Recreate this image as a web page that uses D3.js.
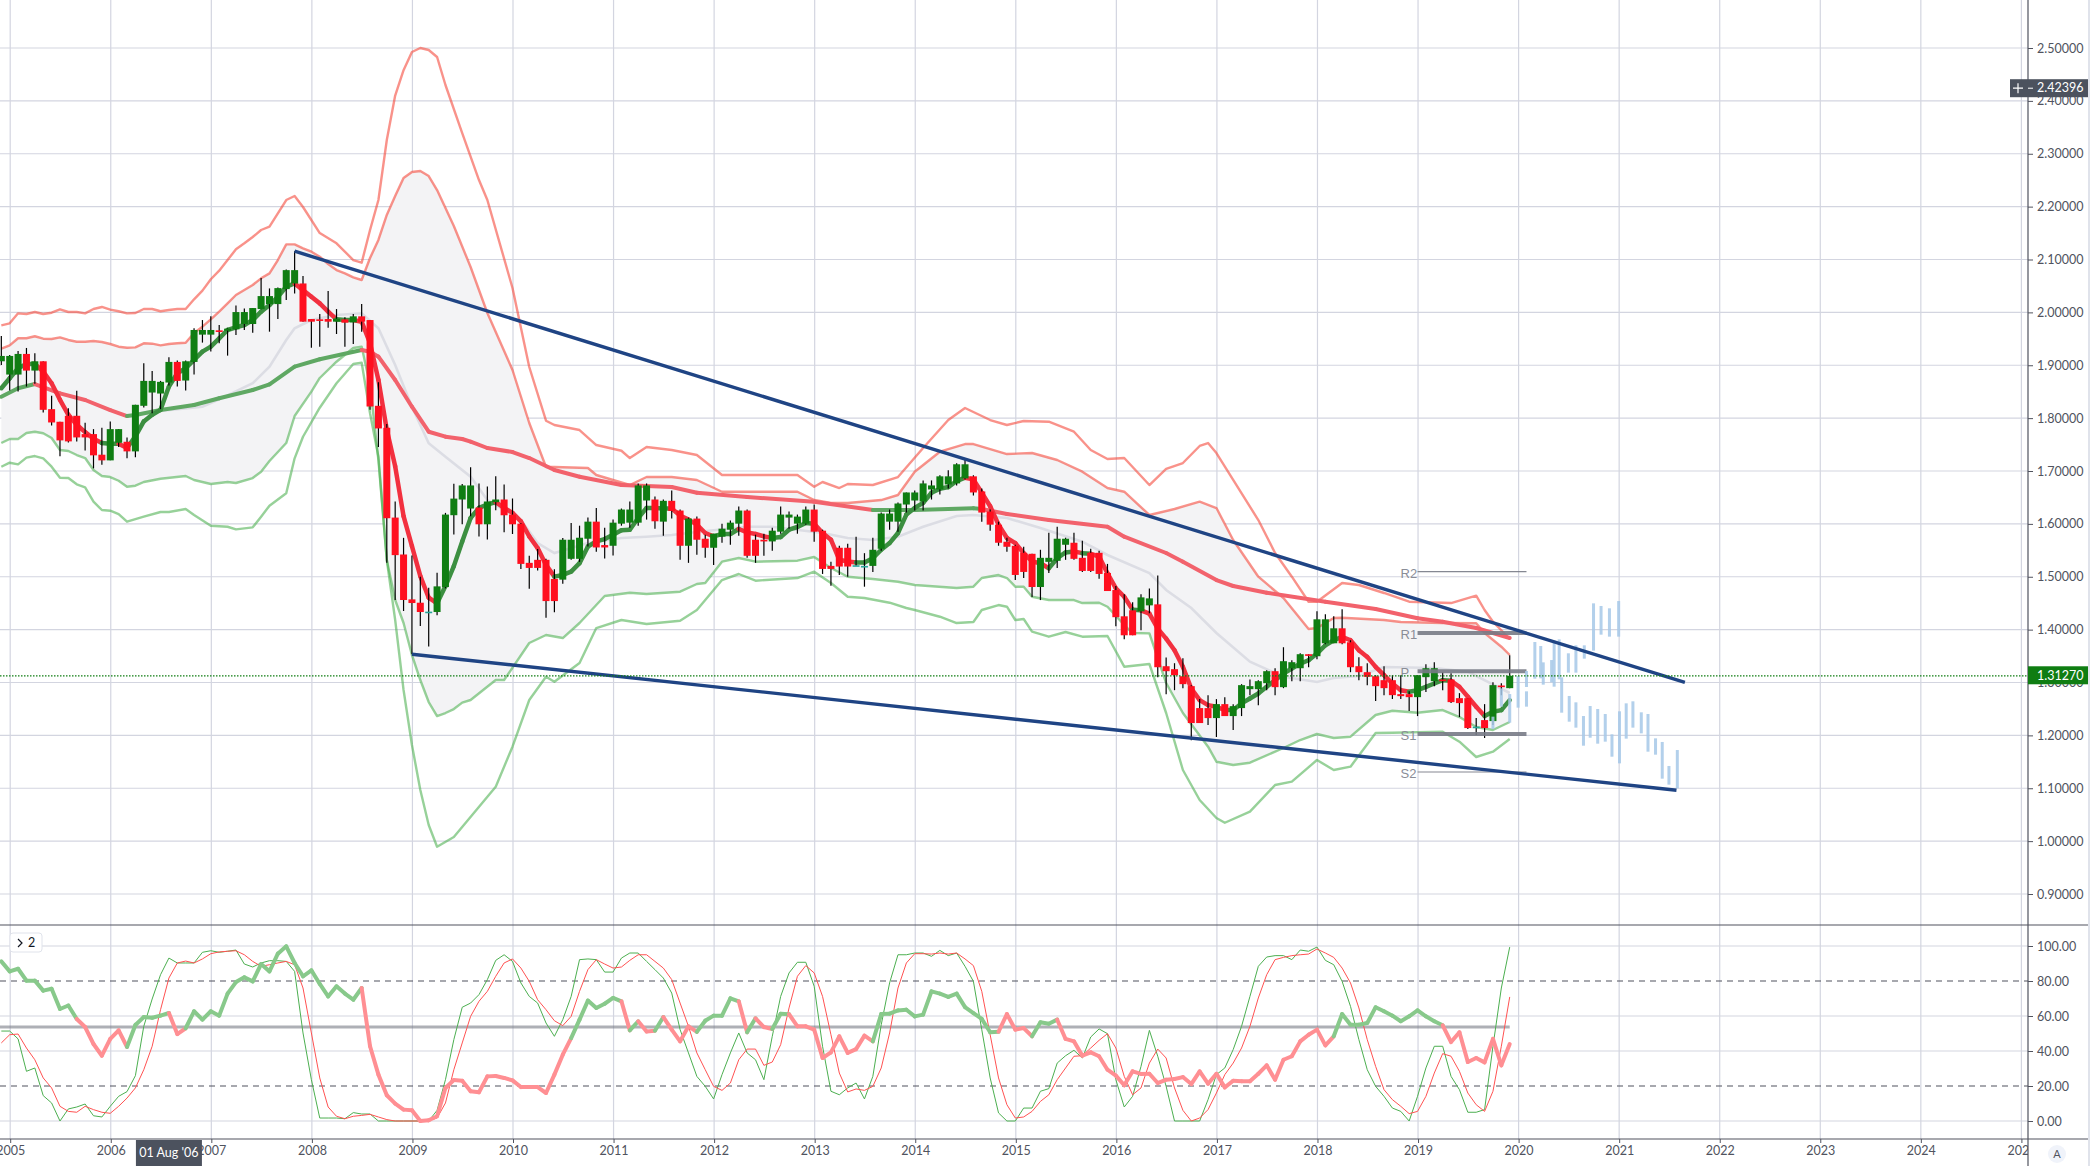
<!DOCTYPE html>
<html>
<head>
<meta charset="utf-8">
<script src="https://cdn.jsdelivr.net/npm/d3@7"></script>
<style>
  html, body { margin: 0; padding: 0; background: #fff; overflow: hidden; }
  .axis text { font-family: Lato, "Open Sans", sans-serif; font-size: 12.5px; fill: #50535e; }
  .axis line { stroke: #50535e; stroke-width: 1; }
  .axis path { display: none; }
</style>
</head>
<body>
<div id="chart"></div>
<script>
// month index: 0 = Jan 2005, monthly bars
var firstMonth = -1;

var opens = [1.9075,1.8824,1.8824,1.9214,1.8899,1.9075,1.8170,1.7931,1.8044,1.8044,
  1.7698,1.7698,1.7308,1.7201,1.7535,1.7553,1.7371,1.8233,1.8484,1.8465,
  1.8673,1.9063,1.8711,1.9063,1.9579,1.9579,1.9660,1.9654,1.9679,1.9780,
  1.9780,2.0063,2.0157,2.0157,2.0440,2.0547,2.0547,1.9874,1.9868,1.9874,
  1.9824,1.9868,1.9811,1.9925,1.9855,1.8233,1.7818,1.6119,1.5421,1.4572,
  1.4509,1.4340,1.4333,1.4805,1.6164,1.6461,1.6290,1.6309,1.5992,1.6410,
  1.6461,1.6176,1.6004,1.5263,1.5320,1.5320,1.4958,1.4945,1.5339,1.5339,
  1.5719,1.6042,1.5599,1.5586,1.6004,1.6023,1.6023,1.6442,1.6461,1.6042,
  1.6436,1.6252,1.5586,1.6100,1.5719,1.5548,1.5757,1.5890,1.6004,1.6252,
  1.5700,1.5700,1.5668,1.5852,1.6119,1.6004,1.6004,1.6271,1.5871,1.5205,
  1.5548,1.5548,1.5218,1.5205,1.5205,1.5529,1.6042,1.6042,1.6366,1.6442,
  1.6423,1.6651,1.6651,1.6746,1.6765,1.6860,1.6899,1.6613,1.6233,1.5985,
  1.5662,1.5586,1.5453,1.5434,1.4806,1.5282,1.5301,1.5605,1.5643,1.5358,
  1.5453,1.5453,1.5072,1.4749,1.4252,1.4365,1.4346,1.4459,1.4478,1.3308,
  1.3252,1.3119,1.2931,1.2516,1.2516,1.2327,1.2591,1.2365,1.2516,1.2874,
  1.2874,1.2987,1.3214,1.2912,1.3270,1.3270,1.3535,1.3497,1.3742,1.3742,
  1.4025,1.3761,1.3308,1.3195,1.3119,1.3044,1.3044,1.2780,1.2780,1.2723,
  1.3101,1.3025,1.3057,1.3057,1.2704,1.2704,1.2165,1.2289,1.2270,1.2943,1.2893];

var highs = [1.9553,1.9195,1.9270,1.9327,1.9226,1.9075,1.8421,1.7931,1.8189,1.8516,
  1.7912,1.7792,1.7818,1.7937,1.7792,1.7635,1.8252,1.9038,1.8893,1.8704,
  1.9151,1.9088,1.9088,1.9698,1.9855,1.9925,1.9761,1.9698,2.0132,2.0075,
  2.0082,2.0648,2.0453,2.0472,2.0811,2.1157,2.0686,1.9874,1.9969,2.0403,
  2.0063,1.9906,1.9969,2.0157,1.9855,1.8679,1.7887,1.6421,1.5736,1.5403,
  1.5000,1.4792,1.5075,1.6208,1.6761,1.6753,1.7070,1.6765,1.6708,1.6899,
  1.6746,1.6480,1.6017,1.5396,1.5523,1.5339,1.5142,1.5732,1.6017,1.5966,
  1.6119,1.6302,1.5928,1.6081,1.6290,1.6423,1.6765,1.6765,1.6518,1.6461,
  1.6632,1.6271,1.6119,1.6138,1.5795,1.5814,1.6004,1.6062,1.6328,1.6271,
  1.5795,1.5814,1.5928,1.6328,1.6233,1.6176,1.6328,1.6366,1.5890,1.5282,
  1.5586,1.5624,1.5757,1.5446,1.5738,1.6214,1.6271,1.6404,1.6594,1.6632,
  1.6822,1.6822,1.6918,1.7013,1.7146,1.7222,1.6918,1.6670,1.6271,1.6042,
  1.5738,1.5605,1.5567,1.5434,1.5510,1.5833,1.5947,1.5738,1.5833,1.5681,
  1.5529,1.5491,1.5243,1.4825,1.4667,1.4516,1.4667,1.4780,1.5025,1.3472,
  1.3365,1.3459,1.2950,1.2686,1.2761,1.2686,1.2723,1.2591,1.2969,1.3057,
  1.3044,1.3233,1.3270,1.3667,1.3421,1.3553,1.3535,1.4346,1.4289,1.4252,
  1.4384,1.3799,1.3478,1.3365,1.3138,1.3308,1.3138,1.3138,1.2836,1.3138,
  1.3346,1.3384,1.3195,1.3176,1.2799,1.2704,1.2327,1.2591,1.3006,1.2987,1.3516];

var lows = [1.9006,1.8522,1.8503,1.8597,1.8648,1.8107,1.7862,1.7277,1.7541,1.7560,
  1.7390,1.7050,1.7119,1.7201,1.7453,1.7239,1.7258,1.8201,1.8094,1.8170,
  1.8616,1.8597,1.8522,1.8824,1.9428,1.9258,1.9415,1.9182,1.9572,1.9667,
  1.9616,2.0057,1.9635,1.9874,2.0233,2.0358,1.9824,1.9333,1.9352,1.9711,
  1.9591,1.9352,1.9403,1.9635,1.8157,1.7453,1.5264,1.4560,1.4352,1.3535,
  1.4069,1.3679,1.4270,1.4780,1.5799,1.5992,1.6144,1.5763,1.5706,1.6258,
  1.5840,1.5808,1.5148,1.4774,1.5117,1.4223,1.4330,1.4869,1.5320,1.5282,
  1.5573,1.5472,1.5345,1.5402,1.5966,1.5928,1.5966,1.6081,1.5909,1.5776,
  1.6100,1.5320,1.5263,1.5415,1.5358,1.5224,1.5643,1.5605,1.5776,1.5358,
  1.5263,1.5396,1.5491,1.5814,1.5909,1.5814,1.5985,1.5662,1.5053,1.4831,
  1.5034,1.5002,1.5205,1.4812,1.5091,1.5491,1.5890,1.5852,1.6214,1.6252,
  1.6252,1.6461,1.6556,1.6670,1.6727,1.6841,1.6537,1.6042,1.5871,1.5586,
  1.5472,1.4939,1.4977,1.4616,1.4559,1.5072,1.5167,1.5320,1.5320,1.5091,
  1.5091,1.4964,1.4730,1.4064,1.3818,1.3893,1.3987,1.4308,1.3101,1.2780,
  1.2855,1.2893,1.1906,1.2233,1.2195,1.1969,1.2365,1.2101,1.2365,1.2761,
  1.2572,1.2855,1.2761,1.2893,1.3025,1.3025,1.3289,1.3440,1.3723,1.3742,
  1.3723,1.3195,1.3044,1.2950,1.2648,1.2761,1.2686,1.2686,1.2459,1.2365,
  1.2818,1.2931,1.2855,1.2610,1.2346,1.2119,1.2006,1.1950,1.2195,1.2761,1.2893];

var closes = [1.9176,1.9176,1.9214,1.8899,1.9075,1.8157,1.7918,1.7579,1.7560,1.7635,
  1.7635,1.7296,1.7201,1.7792,1.7792,1.7371,1.8252,1.8704,1.8704,1.8686,
  1.9063,1.8704,1.9075,1.9667,1.9667,1.9667,1.9635,1.9692,2.0006,2.0006,
  2.0082,2.0308,2.0308,2.0459,2.0799,2.0799,1.9824,1.9824,1.9855,1.9824,
  1.9881,1.9805,1.9925,1.9824,1.8220,1.7805,1.6107,1.5409,1.4560,1.4503,
  1.4333,1.4340,1.4818,1.6176,1.6478,1.6727,1.6727,1.5992,1.6423,1.6461,
  1.6163,1.5992,1.5243,1.5167,1.5167,1.4540,1.4540,1.5700,1.5700,1.5738,
  1.6042,1.5554,1.5554,1.6023,1.6271,1.6271,1.6727,1.6727,1.6049,1.6436,
  1.6245,1.5586,1.6100,1.5700,1.5548,1.5814,1.5909,1.6023,1.6252,1.5396,
  1.5396,1.5668,1.5871,1.6176,1.6176,1.6138,1.6271,1.5852,1.5148,1.5148,
  1.5193,1.5193,1.5218,1.5205,1.5510,1.6195,1.6195,1.6385,1.6594,1.6594,
  1.6765,1.6727,1.6899,1.6899,1.7127,1.7127,1.6594,1.6214,1.5985,1.5643,
  1.5567,1.5034,1.5091,1.4806,1.5358,1.5358,1.5719,1.5719,1.5339,1.5110,
  1.5110,1.5053,1.4730,1.4235,1.3893,1.3893,1.4610,1.4591,1.3289,1.3214,
  1.3138,1.2969,1.2233,1.2233,1.2327,1.2591,1.2365,1.2553,1.2950,1.2931,
  1.3025,1.3214,1.2912,1.3403,1.3384,1.3535,1.3503,1.4195,1.4195,1.4025,
  1.3742,1.3289,1.3195,1.3107,1.2931,1.2893,1.2761,1.2742,1.2723,1.3138,
  1.3270,1.3270,1.3025,1.2629,1.2610,1.2138,1.2165,1.2138,1.2950,1.2912,1.3127];

// fast average, one value per bar
var fastMA = [1.8566,1.8755,1.8943,1.9025,1.9025,1.8881,1.8660,1.8346,1.8063,1.7874,
  1.7736,1.7610,1.7528,1.7516,1.7516,1.7434,1.7654,1.7937,1.8063,1.8157,
  1.8597,1.8849,1.8943,1.9101,1.9258,1.9352,1.9509,1.9667,1.9717,1.9761,
  1.9855,2.0013,2.0138,2.0296,2.0484,2.0547,2.0421,2.0296,2.0170,2.0013,
  1.9868,1.9855,1.9855,1.9824,1.9415,1.8723,1.7780,1.7088,1.6145,1.5579,
  1.5013,1.4604,1.4497,1.4824,1.5201,1.5668,1.6112,1.6302,1.6366,1.6410,
  1.6302,1.6207,1.6049,1.5763,1.5542,1.5224,1.5003,1.5034,1.5098,1.5256,
  1.5573,1.5668,1.5713,1.5795,1.5878,1.5890,1.6112,1.6302,1.6302,1.6290,
  1.6290,1.6157,1.6081,1.5985,1.5827,1.5763,1.5808,1.5808,1.5903,1.5840,
  1.5808,1.5763,1.5732,1.5751,1.5890,1.5941,1.6017,1.6004,1.5827,1.5700,
  1.5320,1.5288,1.5269,1.5269,1.5351,1.5510,1.5637,1.5827,1.6176,1.6302,
  1.6398,1.6588,1.6664,1.6696,1.6810,1.6873,1.6841,1.6588,1.6334,1.5985,
  1.5732,1.5637,1.5446,1.5288,1.5256,1.5161,1.5351,1.5459,1.5478,1.5446,
  1.5434,1.5383,1.5066,1.4781,1.4622,1.4377,1.4365,1.4302,1.4019,1.3830,
  1.3610,1.3296,1.2887,1.2667,1.2572,1.2541,1.2478,1.2478,1.2604,1.2698,
  1.2792,1.2918,1.3044,1.3170,1.3264,1.3358,1.3421,1.3547,1.3704,1.3799,
  1.3862,1.3799,1.3610,1.3484,1.3296,1.3138,1.2981,1.2855,1.2824,1.2855,
  1.2918,1.2981,1.3044,1.3031,1.2918,1.2730,1.2541,1.2365,1.2447,1.2478,1.2667];

// the next series are read at their turning points: [month index, price]
var slowMA = [[-1,1.8405],[1,1.8564],[3,1.8645],[6,1.8469],[9,1.8343],[12,1.8153],[14,1.8040],[15,1.8059],[18,1.8153],[22,1.8248],
  [25,1.8375],[29,1.8532],[31,1.8639],[34,1.8973],[37,1.9113],[42,1.9288],[43,1.9256],[44,1.9162],[46,1.8721],[48,1.8216],
  [50,1.7743],[52,1.7649],[54,1.7605],[55,1.7554],[57,1.7435],[60,1.7359],[62,1.7245],[65,1.7019],[68,1.6892],[73,1.6735],
  [79,1.6697],[82,1.6590],[88,1.6508],[96,1.6419],[103,1.6262],[108,1.6262],[115,1.6294],[116,1.6281],[119,1.6187],[124,1.6073],
  [131,1.5946],[133,1.5757],[138,1.5449],[140,1.5285],[144,1.4938],[146,1.4825],[150,1.4698],[157,1.4528],[163,1.4390],[168,1.4214],
  [171,1.4150],[175,1.4030],[179,1.3841]];

var middleBand = [[-1,1.8419],[1,1.8564],[3,1.8645],[6,1.8469],[9,1.8343],[12,1.8153],[14,1.8040],[17,1.8121],[23,1.8216],[25,1.8356],
  [29,1.8659],[31,1.8973],[33,1.9478],[34,1.9699],[36,1.9856],[39,1.9950],[42,1.9982],[44,1.9699],[46,1.9005],[48,1.8216],
  [50,1.7524],[52,1.7270],[55,1.6892],[57,1.6451],[61,1.6073],[63,1.5638],[65,1.5449],[69,1.5638],[73,1.5733],[76,1.5757],
  [79,1.5789],[82,1.5846],[88,1.5947],[91,1.5947],[97,1.5827],[100,1.5733],[103,1.5695],[106,1.5757],[109,1.5946],[113,1.6149],
  [115,1.6168],[119,1.6111],[123,1.5922],[128,1.5663],[131,1.5411],[136,1.5071],[138,1.4749],[141,1.4409],[144,1.3936],[148,1.3393],
  [152,1.3110],[156,1.3009],[158,1.3085],[161,1.3123],[164,1.3293],[170,1.3274],[174,1.3204],[179,1.2801]];

var upperOuter = [[-1,1.9755],[0,1.9793],[1,1.9982],[2,1.9969],[3,2.0007],[4,1.9969],[5,1.9994],[6,2.0058],[7,2.0007],[8,2.0007],
  [9,1.9982],[10,2.0064],[11,2.0102],[12,2.0051],[13,2.0021],[14,1.9982],[15,1.9988],[16,2.0064],[17,2.0064],[18,2.0021],
  [19,2.0045],[20,2.0064],[21,2.0064],[22,2.0247],[23,2.0411],[24,2.0626],[25,2.0789],[26,2.0990],[27,2.1193],[28,2.1306],
  [29,2.1425],[30,2.1558],[31,2.1620],[33,2.2125],[34,2.2201],[35,2.1993],[37,2.1500],[39,2.1306],[41,2.0990],[42,2.0939],
  [43,2.1558],[44,2.2125],[45,2.3260],[46,2.4100],[47,2.4580],[48,2.4924],[49,2.5000],[50,2.4962],[51,2.4830],[52,2.4300],
  [54,2.3390],[56,2.2503],[57,2.2125],[60,2.0461],[62,1.8967],[64,1.7951],[65,1.7870],[68,1.7775],[70,1.7491],[73,1.7383],
  [74,1.7245],[76,1.7453],[79,1.7397],[82,1.7302],[85,1.6924],[94,1.6924],[96,1.6703],[97,1.6792],[99,1.6678],[100,1.6754],
  [103,1.6735],[106,1.6886],[109,1.7435],[112,1.7964],[114,1.8191],[117,1.7964],[119,1.7870],[121,1.7945],[124,1.7932],[127,1.7743],
  [129,1.7397],[131,1.7227],[133,1.7246],[136,1.6735],[138,1.7038],[140,1.7151],[142,1.7473],[143,1.7529],[144,1.7340],[146,1.6830],
  [149,1.6073],[151,1.5449],[153,1.5001],[155,1.4528],[156,1.4528],[159,1.4882],[161,1.4844],[164,1.4693],[167,1.4528],[172,1.4503],
  [175,1.4642],[176,1.4371],[177,1.4150],[179,1.3823]];

var upperInner = [[-1,1.9313],[0,1.9377],[1,1.9510],[2,1.9510],[3,1.9548],[4,1.9502],[5,1.9496],[6,1.9528],[7,1.9478],[8,1.9445],
  [9,1.9445],[10,1.9458],[11,1.9440],[12,1.9402],[13,1.9351],[14,1.9332],[15,1.9339],[16,1.9415],[17,1.9408],[18,1.9377],
  [19,1.9402],[20,1.9415],[21,1.9426],[22,1.9610],[23,1.9729],[24,1.9869],[25,2.0013],[26,2.0172],[27,2.0329],[28,2.0423],
  [29,2.0518],[30,2.0644],[31,2.0738],[32,2.0990],[33,2.1287],[34,2.1287],[35,2.1212],[36,2.1148],[37,2.1053],[38,2.0915],
  [39,2.0801],[40,2.0738],[41,2.0663],[42,2.0612],[43,2.1028],[44,2.1369],[45,2.1842],[46,2.2200],[47,2.2541],[48,2.2655],
  [49,2.2674],[50,2.2579],[51,2.2314],[52,2.1975],[53,2.1634],[55,2.0858],[57,1.9988],[60,1.8910],[62,1.7908],[64,1.7076],
  [65,1.7076],[69,1.7057],[70,1.6924],[74,1.6735],[76,1.6886],[79,1.6886],[82,1.6830],[85,1.6608],[94,1.6608],[96,1.6451],
  [98,1.6395],[100,1.6395],[104,1.6451],[106,1.6546],[108,1.6987],[111,1.7365],[114,1.7510],[115,1.7510],[119,1.7321],[122,1.7340],
  [125,1.7208],[128,1.6987],[131,1.6678],[133,1.6608],[136,1.6168],[139,1.6281],[142,1.6419],[144,1.6300],[146,1.5695],[149,1.5001],
  [152,1.4598],[155,1.4011],[156,1.4030],[158,1.4219],[159,1.4225],[164,1.4182],[166,1.4144],[171,1.4125],[175,1.4120],[176,1.3936],
  [178,1.3677],[179,1.3520]];

var lowerInner = [[-1,1.7529],[0,1.7605],[1,1.7605],[2,1.7718],[3,1.7743],[4,1.7713],[5,1.7624],[6,1.7397],[7,1.7378],[8,1.7302],
  [9,1.7245],[10,1.7019],[11,1.6905],[12,1.6886],[13,1.6816],[14,1.6703],[15,1.6722],[16,1.6792],[18,1.6854],[21,1.6905],
  [22,1.6830],[24,1.6754],[26,1.6792],[27,1.6773],[29,1.6867],[30,1.6987],[31,1.7189],[33,1.7529],[34,1.8040],[36,1.8500],
  [37,1.8759],[39,1.9067],[41,1.9326],[42,1.9351],[43,1.8626],[44,1.7208],[45,1.5317],[46,1.4560],[47,1.4125],[48,1.3520],
  [49,1.3047],[50,1.2631],[51,1.2366],[52,1.2423],[53,1.2498],[54,1.2620],[55,1.2669],[58,1.3047],[59,1.3047],[62,1.3747],
  [64,1.3898],[66,1.3841],[68,1.4125],[71,1.4636],[74,1.4698],[76,1.4674],[80,1.4717],[82,1.4863],[83,1.4882],[85,1.5285],
  [87,1.5355],[89,1.5285],[94,1.5304],[96,1.5374],[98,1.5165],[100,1.5001],[103,1.4957],[106,1.4906],[108,1.4844],[113,1.4787],
  [115,1.4812],[116,1.4976],[118,1.5033],[119,1.4976],[120,1.4812],[121,1.4812],[122,1.4622],[124,1.4560],[127,1.4560],[128,1.4503],
  [130,1.4509],[131,1.4433],[133,1.4087],[134,1.3936],[136,1.3930],[138,1.2990],[140,1.2423],[143,1.1786],[144,1.1502],[146,1.1440],
  [148,1.1483],[152,1.1761],[154,1.1912],[156,1.2026],[158,1.1950],[160,1.1975],[163,1.2385],[165,1.2466],[168,1.2428],[171,1.2479],
  [173,1.2347],[175,1.2158],[177,1.2101],[179,1.2253]];

var lowerOuter = [[-1,1.7081],[0,1.7157],[1,1.7126],[2,1.7252],[3,1.7283],[4,1.7240],[5,1.7081],[6,1.6873],[7,1.6867],[8,1.6748],
  [9,1.6691],[10,1.6419],[11,1.6262],[12,1.6249],[13,1.6186],[14,1.6041],[16,1.6136],[18,1.6224],[19,1.6224],[21,1.6281],
  [22,1.6168],[24,1.5965],[26,1.5946],[27,1.5897],[29,1.5934],[30,1.6136],[31,1.6344],[33,1.6578],[34,1.7240],[35,1.7648],
  [37,1.8197],[39,1.8659],[41,1.9024],[42,1.9048],[43,1.8091],[44,1.7270],[45,1.5317],[46,1.4182],[47,1.2858],[48,1.1818],
  [49,1.0967],[50,1.0305],[51,0.9894],[53,1.0078],[58,1.1029],[60,1.1786],[62,1.2669],[64,1.3110],[65,1.3015],[68,1.3369],
  [70,1.4030],[73,1.4182],[76,1.4106],[80,1.4169],[82,1.4371],[85,1.4938],[87,1.5052],[89,1.4925],[94,1.4976],[96,1.5095],
  [98,1.4881],[100,1.4622],[102,1.4598],[105,1.4509],[107,1.4409],[108,1.4371],[111,1.4244],[113,1.4125],[115,1.4144],[116,1.4371],
  [118,1.4465],[119,1.4433],[120,1.4182],[121,1.4201],[122,1.3961],[124,1.3866],[126,1.3955],[128,1.3866],[131,1.3879],[133,1.3299],
  [136,1.3350],[138,1.2423],[140,1.1345],[142,1.0778],[144,1.0437],[145,1.0348],[148,1.0557],[151,1.1061],[153,1.1124],[156,1.1534],
  [158,1.1345],[160,1.1408],[163,1.2045],[165,1.2050],[171,1.2070],[173,1.1881],[175,1.1591],[177,1.1691],[179,1.1931]];

// projected price bars after the last candle: month, top price, bottom price
var projMonths = [177,178,179,180,181,181,182,182.7,183,184,184.3,184.9,185.2,186,186.1,186.9,186.9,187.8,187.9,188.6,189,189.5,189.9,190.4,190.9,191.2,192,192.1,192.9,193.7,194.7,195.5,196.4,197.2,198,199];
var projTops = [1.2354,1.2890,1.2782,1.3123,1.3217,1.2833,1.3766,1.3690,1.3381,1.3425,1.3791,1.3816,1.3098,1.3552,1.2745,1.3703,1.2625,1.2366,1.3703,1.2555,1.4497,1.2499,1.4447,1.2404,1.4403,1.2020,1.4541,1.2455,1.2606,1.2644,1.2436,1.2404,1.1944,1.1875,1.1421,1.1723];
var projBottoms = [1.2120,1.2543,1.2240,1.2524,1.2915,1.2543,1.3072,1.3079,1.2959,1.3003,1.2921,1.3060,1.2429,1.3186,1.2259,1.3186,1.2146,1.1805,1.3451,1.1956,1.3602,1.1843,1.3905,1.1881,1.3867,1.1597,1.3867,1.1471,1.1938,1.2146,1.2038,1.1692,1.1635,1.1181,1.1068,1.0998];

var pivotNames = ["R2", "R1", "P", "S1", "S2"];
var pivotValues = [1.5096, 1.3936, 1.3211, 1.2026, 1.1307];
var pivotStart = 168, pivotEnd = 181;

// channel drawn by hand: [month, price] start and end
var channelTop = [[34, 2.1157], [199.9, 1.3004]];
var channelBottom = [[48, 1.3535], [198.9, 1.0961]];

// stochastic pane
var oscThick = [91.2,85.5,87,80.2,80.2,74.5,75.6,64,66,58.3,53.7,44,37.3,46.9,51.8,42.3,54.9,59.4,59,60.2,
  61.7,49.7,53,62.7,57.9,62.7,60.2,72.8,79.4,82.1,79.8,89.7,85.5,95.6,99.8,90.3,82.7,86.1,78.3,71.2,
  77,72.8,69.3,76,42.7,26.5,14.7,9.9,6.5,6.1,0,0.4,2.7,18.9,23.4,23,17,16.4,25.5,25.7,
  24.6,23.2,19.4,19.4,19.4,16,26.5,37.9,47.4,57.9,68.8,64.6,67,70.3,68.4,51.8,57,51.2,51.6,59.4,
  52.2,45.5,54.1,50.9,57.3,60.2,60.2,70.1,68.4,50.7,58.7,53.7,52.6,61.3,61,54.1,54.1,52.2,36,39.2,
  48.4,38.9,41.1,48.8,45.5,61.1,61.3,63.2,63.6,59.8,60.8,74.1,72.8,70.9,72.8,65.1,61.7,58.3,50.7,51,
  61.1,52.2,53.1,48.4,56.4,55.6,57.9,46.9,45.5,37.3,39.2,37,29.3,25.9,20.4,28.4,26.9,27,21.7,23.6,
  24,25.1,21.1,28.4,21.3,27,19.2,23,22.7,22.7,27,31.8,23.6,35,37,45.5,49.3,52.2,43.2,48.4,
  61.1,55,55,56,65,62.7,60.2,57,59.8,63.2,59.8,57,54.7,45.1,50.7,33.7,36,33.5,46.9,31.8,44];

var oscK = [51.4,51.4,46.9,28.4,30.3,14.5,10.3,0,6.9,8,9.7,3,2.3,8.4,14.1,16.8,25.9,54.1,69.7,83.6,
  93.1,90.3,90.3,90.3,96.4,97.3,96.4,97,97.7,89.7,88,90.3,91.6,91.6,91.2,85.5,50.3,23.6,1.7,1.7,
  1.7,1.3,4.8,4,4,0,0,0,0,0,0,0,6.1,23.6,46.5,65,67.4,72.2,80.8,91.8,
  95,91.2,78.9,71.2,67.4,56,48.4,57.9,71.2,92.2,92.6,92.2,85.1,85.1,93.1,96,96,91.2,86.5,81.7,
  73.1,52.2,38.9,25.5,19.8,12.6,26.5,38.9,50.3,38.9,35,23.6,48.4,71.2,84.6,90.7,90.7,77,42.7,17,
  15,18.9,21.7,12.6,25.5,55,78.9,95,95,96,96,94.1,97.5,94.5,96,88.4,79.8,52.2,24.6,4.6,
  0,0,7.4,7.4,17,18.5,33.1,37.3,40.4,36,48,52.6,49.9,23.6,8,14.1,31.2,51.8,37,19.8,
  0,0,0,0,12.2,26.5,30.3,40.8,54.1,71.2,88.4,93.7,94.5,94.5,92.2,97.7,97,99.4,91.8,89.3,
  79.8,65.5,46.5,29.3,19.8,14.1,7.4,5.5,0,14.1,30.3,42.7,42.7,25.5,17.9,5,5,6.5,42.7,76,99.4];

var oscD = [44.6,49.3,49.7,41.7,35,24.6,18.9,8.4,5.5,5,8.4,6.5,5,4.4,8.4,13.1,18.9,29.3,42.7,63.6,
  81.7,90.3,91.4,90.3,92.6,95.6,96.6,97,97.3,95,91.2,88.4,89.3,90.3,91.2,89.3,76,50.3,24.6,8,
  2.7,1.3,2.7,3.2,3.8,2.3,0.8,0,0,0,0,0.2,1.7,10.3,29.3,44.6,59.8,68.4,74.1,82.7,
  90.3,92.6,87.4,79.8,69.3,63.6,57.3,54.5,59.8,74.1,86.5,92.2,89.7,87.4,88,91.8,95,95,91.2,87.4,
  80.8,67.4,54.1,38.9,29.3,19.8,17.5,21.7,35,41.1,41.1,31.8,33.7,43.6,64.6,82.7,88.8,84.6,71.2,49.3,
  27.4,16.6,18.3,17.5,19.8,30.3,50.3,76,90.3,95.6,95.6,95.4,96,95.4,96,92.6,88.8,74.1,49.3,24.6,
  9.3,1.7,2.3,5.5,11.2,15,23.6,30.3,37,37.3,41.7,46.1,49.9,41.7,25.5,15,18.9,33.1,41.1,36,
  18.9,6.1,0,1.7,6.5,16,26.5,33.1,41.7,54.1,70.3,83.6,92.2,93.5,94.5,95,95.4,98.3,96,93.5,
  87.4,78.9,64.6,46.5,31.2,17.9,12.2,8.4,4.2,5.5,14.1,27.4,38.5,37,28.4,16,9.3,5.5,17,42.7,70.9];

// month spans where the thick line is drawn red
var oscRedSpans = [[8,14],[19,21],[42,67],[73,74],[75,77],[78,82],[87,88],[89,91],[93,103],[118,122],[125,158],[171,179]];
var oscMiddle = 53.7;

var priceTicks = [2.5,2.4,2.3,2.2,2.1,2.0,1.9,1.8,1.7,1.6,1.5,1.4,1.3,1.2,1.1,1.0,0.9];
var oscTicks = [100,80,60,40,20,0];
var yearTicks = [2005,2006,2007,2008,2009,2010,2011,2012,2013,2014,2015,2016,2017,2018,2019,2020,2021,2022,2023,2024,2025];

var lastPrice = 1.3127;
var crossPrice = 2.42396;
var crossMonth = 19;

var svgWidth = 2090, svgHeight = 1166;
var axisX = 2028, paneDivider = 925, timeTop = 1139, rightEdge = 2088;
var gridColor = "#d3d5e0", axisColor = "#50535e", labelBox = "#4c525e";
var redBody = "#ff0f1f", greenBody = "#0f7d12";

var svg = d3.select("#chart")
  .append("svg")
  .attr("width", svgWidth)
  .attr("height", svgHeight)
  .style("display", "block");

var x = d3.scaleLinear().domain([0, 180]).range([9.7, 1518.1]);
var y = d3.scaleLinear().domain([0.9, 2.5]).range([894, 48]);
var yOsc = d3.scaleLinear().domain([0, 100]).range([1121, 946]);

var defs = svg.append("defs");
defs.append("clipPath").attr("id", "mainClip").append("rect")
  .attr("x", 0).attr("y", 0).attr("width", axisX).attr("height", paneDivider);
defs.append("clipPath").attr("id", "oscClip").append("rect")
  .attr("x", 0).attr("y", paneDivider).attr("width", axisX).attr("height", timeTop - paneDivider);
defs.append("clipPath").attr("id", "timeClip").append("rect")
  .attr("x", 0).attr("y", timeTop).attr("width", axisX).attr("height", svgHeight - timeTop);

// grid
var grid = svg.append("g");
grid.selectAll(".vgrid")
  .data(yearTicks)
  .enter()
  .append("line")
  .attr("x1", d => x((d - 2005) * 12) + 0.5)
  .attr("x2", d => x((d - 2005) * 12) + 0.5)
  .attr("y1", 0)
  .attr("y2", timeTop)
  .attr("stroke", gridColor)
  .attr("stroke-width", 1.2);
grid.selectAll(".hgrid")
  .data(priceTicks)
  .enter()
  .append("line")
  .attr("x1", 0)
  .attr("x2", axisX)
  .attr("y1", d => y(d))
  .attr("y2", d => y(d))
  .attr("stroke", gridColor)
  .attr("stroke-width", 1.2);
grid.selectAll(".ogrid")
  .data(oscTicks.filter(d => d != 80 && d != 20))
  .enter()
  .append("line")
  .attr("x1", 0)
  .attr("x2", axisX)
  .attr("y1", d => yOsc(d))
  .attr("y2", d => yOsc(d))
  .attr("stroke", gridColor)
  .attr("stroke-width", 1.2);

// main pane
var main = svg.append("g").attr("clip-path", "url(#mainClip)");

var pairLine = d3.line().x(d => x(d[0])).y(d => y(d[1]));

// band fill between the inner bands
var bandOutline = upperInner.concat(lowerInner.slice().reverse());
main.append("path")
  .attr("d", pairLine(bandOutline) + "Z")
  .attr("fill", "#f3f3f5");

function bandLine(points, color) {
  main.append("path")
    .attr("d", pairLine(points))
    .attr("fill", "none")
    .attr("stroke", color)
    .attr("stroke-opacity", 0.58)
    .attr("stroke-width", 2.4)
    .attr("stroke-linejoin", "round");
}
bandLine(upperOuter, "#f44336");
bandLine(upperInner, "#f44336");
bandLine(lowerInner, "#4caf50");
bandLine(lowerOuter, "#4caf50");

main.append("path")
  .attr("d", pairLine(middleBand))
  .attr("fill", "none")
  .attr("stroke", "#dcdde4")
  .attr("stroke-width", 2.6);

// thick averages change colour with direction
function directionLine(points, upColor, downColor, width) {
  main.selectAll(null)
    .data(d3.pairs(points))
    .enter()
    .append("path")
    .attr("d", d => pairLine(d))
    .attr("fill", "none")
    .attr("stroke", d => (d[1][1] - d[0][1] >= -0.0015 ? upColor : downColor))
    .attr("stroke-width", width)
    .attr("stroke-linecap", "round");
}
directionLine(slowMA, "#5fa863", "#f2626c", 4);
directionLine(fastMA.map((v, i) => [firstMonth + i, v]), "#3c8f41", "#f2303f", 4.5);

// candles
var candleIndex = d3.range(opens.length);
main.selectAll(".wick")
  .data(candleIndex)
  .enter()
  .append("line")
  .attr("class", "wick")
  .attr("x1", i => x(firstMonth + i))
  .attr("x2", i => x(firstMonth + i))
  .attr("y1", i => y(highs[i]))
  .attr("y2", i => y(lows[i]))
  .attr("stroke", "#000")
  .attr("stroke-width", 1.2);
main.selectAll(".body")
  .data(candleIndex)
  .enter()
  .append("rect")
  .attr("class", "body")
  .attr("x", i => x(firstMonth + i) - 3.5)
  .attr("width", 7)
  .attr("y", i => y(Math.max(opens[i], closes[i])))
  .attr("height", i => Math.max(Math.abs(y(opens[i]) - y(closes[i])), 1.6))
  .attr("fill", function(i) {
    if (opens[i] == closes[i]) return "#26a69a";
    return closes[i] > opens[i] ? greenBody : redBody;
  });

// pivot levels
main.selectAll(".pivot")
  .data(pivotValues)
  .enter()
  .append("line")
  .attr("x1", x(pivotStart))
  .attr("x2", x(pivotEnd))
  .attr("y1", d => y(d))
  .attr("y2", d => y(d))
  .attr("stroke", "#787b86")
  .attr("stroke-opacity", 0.9)
  .attr("stroke-width", (d, i) => (i == 0 || i == 4 ? 1.2 : 4));
main.selectAll(".pivotLabel")
  .data(pivotNames)
  .enter()
  .append("text")
  .attr("x", x(pivotStart) - 17)
  .attr("y", (d, i) => y(pivotValues[i]) + 6)
  .attr("font-family", "Liberation Sans, Arial, sans-serif")
  .attr("font-size", 13)
  .attr("fill", "#8a8d97")
  .text(d => d);

// projection bars
main.selectAll(".proj")
  .data(projMonths)
  .enter()
  .append("rect")
  .attr("x", d => x(d) - 1.5)
  .attr("width", 3)
  .attr("y", (d, i) => y(projTops[i]))
  .attr("height", (d, i) => y(projBottoms[i]) - y(projTops[i]))
  .attr("fill", "#a6c8e8")
  .attr("fill-opacity", 0.85);

// channel
[channelTop, channelBottom].forEach(function(points) {
  main.append("path")
    .attr("d", pairLine(points))
    .attr("fill", "none")
    .attr("stroke", "#1f4484")
    .attr("stroke-width", 3.4);
});

main.append("line")
  .attr("x1", 0)
  .attr("x2", axisX)
  .attr("y1", y(lastPrice))
  .attr("y2", y(lastPrice))
  .attr("stroke", greenBody)
  .attr("stroke-width", 1.2)
  .attr("stroke-dasharray", "1.5,1.5");

// oscillator pane
var osc = svg.append("g").attr("clip-path", "url(#oscClip)");

[80, 20].forEach(function(level) {
  osc.append("line")
    .attr("x1", 0)
    .attr("x2", axisX)
    .attr("y1", yOsc(level))
    .attr("y2", yOsc(level))
    .attr("stroke", "#50535e")
    .attr("stroke-width", 1.2)
    .attr("stroke-dasharray", "6,5");
});

osc.append("line")
  .attr("x1", 0)
  .attr("x2", x(179))
  .attr("y1", yOsc(oscMiddle))
  .attr("y2", yOsc(oscMiddle))
  .attr("stroke", "#787b86")
  .attr("stroke-opacity", 0.6)
  .attr("stroke-width", 3);

var oscLine = d3.line()
  .x((d, i) => x(firstMonth + i))
  .y(d => yOsc(d));

osc.append("path")
  .attr("d", oscLine(oscK))
  .attr("fill", "none")
  .attr("stroke", "#4caf50")
  .attr("stroke-width", 1);
osc.append("path")
  .attr("d", oscLine(oscD))
  .attr("fill", "none")
  .attr("stroke", "#ff5252")
  .attr("stroke-width", 1);

function isRedStep(month) {
  return oscRedSpans.some(s => month >= s[0] && month < s[1]);
}
osc.selectAll(".thick")
  .data(d3.range(oscThick.length - 1))
  .enter()
  .append("line")
  .attr("x1", i => x(firstMonth + i))
  .attr("x2", i => x(firstMonth + i + 1))
  .attr("y1", i => yOsc(oscThick[i]))
  .attr("y2", i => yOsc(oscThick[i + 1]))
  .attr("stroke", i => (isRedStep(firstMonth + i) ? "#ff8f93" : "#88c98b"))
  .attr("stroke-width", 4)
  .attr("stroke-linecap", "round");

// axes
var priceAxis = d3.axisRight(y)
  .tickValues(priceTicks)
  .tickFormat(d => d.toFixed(5))
  .tickSize(5)
  .tickPadding(4);
svg.append("g")
  .attr("class", "axis")
  .attr("transform", `translate(${axisX}, 0)`)
  .call(priceAxis);

var oscAxis = d3.axisRight(yOsc)
  .tickValues(oscTicks)
  .tickFormat(d => d.toFixed(2))
  .tickSize(5)
  .tickPadding(4);
svg.append("g")
  .attr("class", "axis")
  .attr("transform", `translate(${axisX}, 0)`)
  .call(oscAxis);

var timeAxis = d3.axisBottom(x)
  .tickValues(yearTicks.map(d => (d - 2005) * 12))
  .tickFormat(d => String(2005 + d / 12))
  .tickSize(4)
  .tickPadding(3);
svg.append("g")
  .attr("clip-path", "url(#timeClip)")
  .append("g")
  .attr("class", "axis")
  .attr("transform", `translate(0.5, ${timeTop})`)
  .call(timeAxis);

// frame lines
svg.append("line").attr("x1", axisX).attr("x2", axisX).attr("y1", 0).attr("y2", svgHeight)
  .attr("stroke", axisColor).attr("stroke-width", 1.2);
svg.append("line").attr("x1", 0).attr("x2", rightEdge).attr("y1", paneDivider).attr("y2", paneDivider)
  .attr("stroke", axisColor).attr("stroke-width", 1.2);
svg.append("line").attr("x1", 0).attr("x2", rightEdge).attr("y1", timeTop).attr("y2", timeTop)
  .attr("stroke", axisColor).attr("stroke-width", 1.2);
svg.append("rect").attr("x", rightEdge).attr("y", 0).attr("width", svgWidth - rightEdge).attr("height", svgHeight)
  .attr("fill", "#e0e3eb");

// last price tag
svg.append("rect")
  .attr("x", axisX)
  .attr("y", y(lastPrice) - 9.5)
  .attr("width", rightEdge - axisX)
  .attr("height", 18)
  .attr("fill", greenBody);
svg.append("text")
  .attr("x", axisX + 9)
  .attr("y", y(lastPrice) + 4)
  .attr("font-family", "Lato, sans-serif")
  .attr("font-size", 12.5)
  .attr("fill", "#fff")
  .text(lastPrice.toFixed(5));

// crosshair tag on the price axis
var crossY = y(crossPrice);
svg.append("rect")
  .attr("x", 2010)
  .attr("y", crossY - 9)
  .attr("width", rightEdge - 2010)
  .attr("height", 18)
  .attr("fill", labelBox);
svg.append("path")
  .attr("d", `M2013,${crossY}H2023M2018,${crossY - 5}V${crossY + 5}`)
  .attr("stroke", "#fff")
  .attr("stroke-width", 1.2);
svg.append("path")
  .attr("d", `M${axisX},${crossY}H${axisX + 5}`)
  .attr("stroke", "#fff")
  .attr("stroke-width", 1);
svg.append("text")
  .attr("x", axisX + 9)
  .attr("y", crossY + 4)
  .attr("font-family", "Lato, sans-serif")
  .attr("font-size", 12.5)
  .attr("fill", "#fff")
  .text(crossPrice.toFixed(5));

// crosshair tag on the time axis
svg.append("rect")
  .attr("x", x(crossMonth) - 33)
  .attr("y", timeTop + 1)
  .attr("width", 66)
  .attr("height", svgHeight - timeTop - 1)
  .attr("fill", labelBox);
svg.append("text")
  .attr("x", x(crossMonth))
  .attr("y", 1157)
  .attr("text-anchor", "middle")
  .attr("font-family", "Lato, sans-serif")
  .attr("font-size", 12.5)
  .attr("fill", "#fff")
  .text("01 Aug '06");

// collapse button of the pane legend
svg.append("rect")
  .attr("x", 10)
  .attr("y", 933)
  .attr("width", 32)
  .attr("height", 19)
  .attr("rx", 3)
  .attr("fill", "#fff")
  .attr("stroke", "#e0e3eb");
svg.append("path")
  .attr("d", "M18,939L22,943L18,947")
  .attr("fill", "none")
  .attr("stroke", "#131722")
  .attr("stroke-width", 1.2);
svg.append("text")
  .attr("x", 28)
  .attr("y", 947)
  .attr("font-family", "Lato, sans-serif")
  .attr("font-size", 12.5)
  .attr("fill", "#131722")
  .text("2");

// auto scale button
svg.append("circle")
  .attr("cx", 2057)
  .attr("cy", 1154)
  .attr("r", 9)
  .attr("fill", "#f0f3fa");
svg.append("text")
  .attr("x", 2057)
  .attr("y", 1158)
  .attr("text-anchor", "middle")
  .attr("font-family", "Lato, sans-serif")
  .attr("font-size", 11)
  .attr("fill", "#50535e")
  .text("A");
</script>
</body>
</html>
